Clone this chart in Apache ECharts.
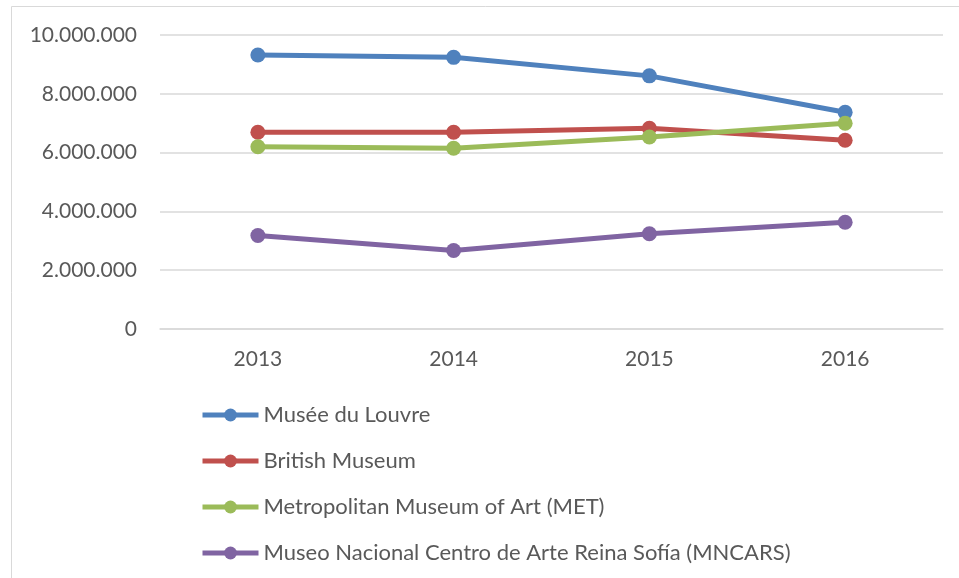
<!DOCTYPE html>
<html>
<head>
<meta charset="utf-8">
<script src="https://cdn.jsdelivr.net/npm/echarts@6/dist/echarts.min.js"></script>
<style>
  html, body { margin: 0; padding: 0; background: #fff; }
  #chart { width: 959px; height: 578px; }
</style>
</head>
<body>
<div id="chart"></div>
<script>
var years = ['2013', '2014', '2015', '2016'];
var louvre = [9320000, 9240000, 8610000, 7370000];
var british = [6690000, 6690000, 6830000, 6420000];
var met = [6200000, 6150000, 6530000, 7000000];
var mncars = [3180000, 2670000, 3240000, 3630000];
var names = [
  'Musée du Louvre',
  'British Museum',
  'Metropolitan Museum of Art (MET)',
  'Museo Nacional Centro de Arte Reina Sofía (MNCARS)'
];
var colors = ['#4F81BD', '#C0504D', '#9BBB59', '#8064A2'];

function fmt(v) {
  return String(v).replace(/\B(?=(\d{3})+(?!\d))/g, '.');
}

var chart = echarts.init(document.getElementById('chart'));

var series = [louvre, british, met, mncars].map(function (d, i) {
  return {
    name: names[i],
    type: 'line',
    data: d,
    symbol: 'circle',
    symbolSize: 15,
    lineStyle: { width: 5, color: colors[i] },
    itemStyle: { color: colors[i] },
    animation: false
  };
});

chart.setOption({
  textStyle: { fontFamily: 'Lato, "Open Sans", sans-serif' },
  graphic: [{
    type: 'rect',
    shape: { x: 11.5, y: 6.5, width: 1000, height: 1000 },
    style: { fill: 'none', stroke: '#d9d9d9', lineWidth: 1 },
    silent: true
  }],
  grid: { left: 160, right: 16, top: 35, bottom: 249 },
  legend: {
    orient: 'vertical',
    left: 195,
    top: 399,
    height: 190,
    itemWidth: 56,
    itemHeight: 16,
    itemGap: 24,
    lineStyle: { width: 5 },
    textStyle: { fontSize: 22, color: '#595959', fontFamily: 'Lato, "Open Sans", sans-serif' },
    data: names
  },
  xAxis: {
    type: 'category',
    data: years,
    boundaryGap: true,
    axisLine: { show: true, lineStyle: { color: '#d9d9d9', width: 1.5 } },
    axisTick: { show: false },
    axisLabel: { fontSize: 21, color: '#595959', margin: 20 }
  },
  yAxis: {
    type: 'value',
    min: 0,
    max: 10000000,
    interval: 2000000,
    axisLine: { show: false },
    axisTick: { show: false },
    axisLabel: { fontSize: 21, color: '#595959', margin: 23, formatter: fmt },
    splitLine: { lineStyle: { color: '#d9d9d9', width: 1.5 } }
  },
  series: series
});
</script>
</body>
</html>
